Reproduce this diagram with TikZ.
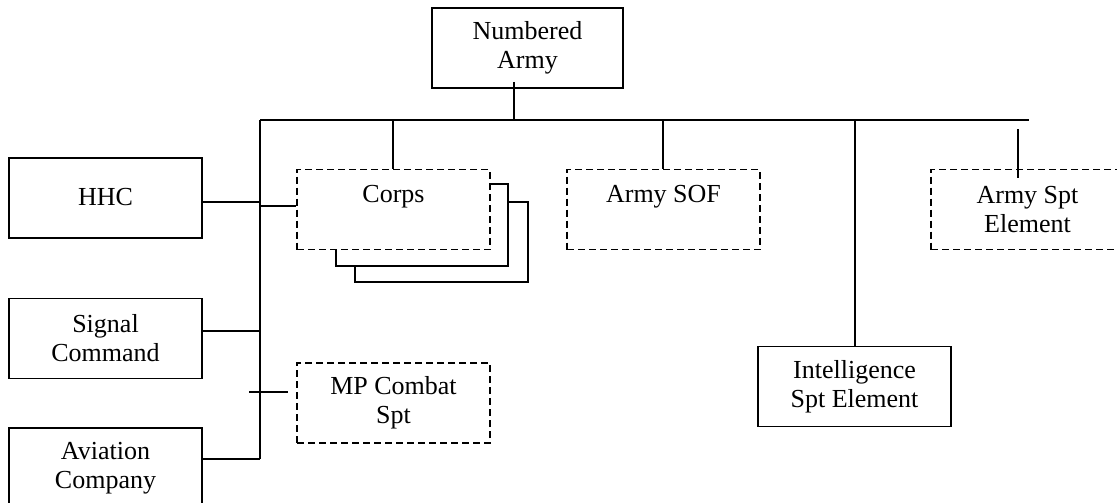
\documentclass[tikz,border=0pt]{standalone}
\usepackage{fontspec}
\setmainfont{Liberation Serif}
\begin{document}
\begin{tikzpicture}[x=1pt,y=-1pt,line width=1.8pt,
  box/.style={draw,fill=white,rectangle,inner sep=0pt,minimum width=193pt,minimum height=80pt,align=center},
  dbox/.style={box,line width=1.5pt,dash pattern=on 7pt off 4pt},
  txt/.style={inner sep=0pt,align=center},
  every node/.append style={font=\fontsize{26}{29}\selectfont}]
\clip (0,0) rectangle (1117,503);
% top
\node[box,minimum width=191pt] (army) at (527.5,48) {Numbered\\Army};
\coordinate (bus) at (514,120);
\draw (514,82) -- (bus);
\draw (260,120) -- (1029,120);
% trunk
\coordinate (trTop) at (260,120);
\coordinate (trBot) at (260,459);
\draw (trTop) -- (trBot);
% left boxes
\node[box] (hhc) at (105.5,198) {};
\node[txt] at (105.5,197) {HHC};
\node[box] (sig) at (105.5,338.5) {Signal\\Command};
\node[box] (avi) at (105.5,468) {Aviation\\Company};
\draw (hhc.east |- 0,202) -- (260,202);
\draw (sig.east |- 0,331) -- (260,331);
\draw (avi.east |- 0,459) -- (trBot);
% corps stack
\node[box,minimum width=173pt,minimum height=80pt] (c3) at (441.5,242) {};
\node[box,minimum width=172pt,minimum height=82pt] (c2) at (422,225) {};
\node[dbox] (corps) at (393.5,209.5) {};
\node[txt] at (393.5,197) {Corps};
\draw (393,120) -- (corps.north -| 393,0);
\draw (260,206) -- (corps.west |- 0,206);
% MP
\node[dbox] (mp) at (393.5,403) {MP Combat\\Spt};
\coordinate (mpA) at (249,392);
\coordinate (mpB) at (288,392);
\draw (mpA) -- (mpB);
% Army SOF
\node[dbox] (sof) at (663.5,209.5) {};
\node[txt] at (663.5,197) {Army SOF};
\draw (663,120) -- (sof.north -| 663,0);
% Intelligence
\node[box] (intel) at (854.5,386.5) {Intelligence\\Spt Element};
\draw (855,120) -- (intel.north -| 855,0);
% Army Spt Element
\node[dbox] (ase) at (1027.5,209.5) {};
\node[txt] at (1027.5,210) {Army Spt\\Element};
\coordinate (aseA) at (1018,129);
\coordinate (aseB) at (1018,178);
\draw (aseA) -- (aseB);
\end{tikzpicture}
\end{document}
